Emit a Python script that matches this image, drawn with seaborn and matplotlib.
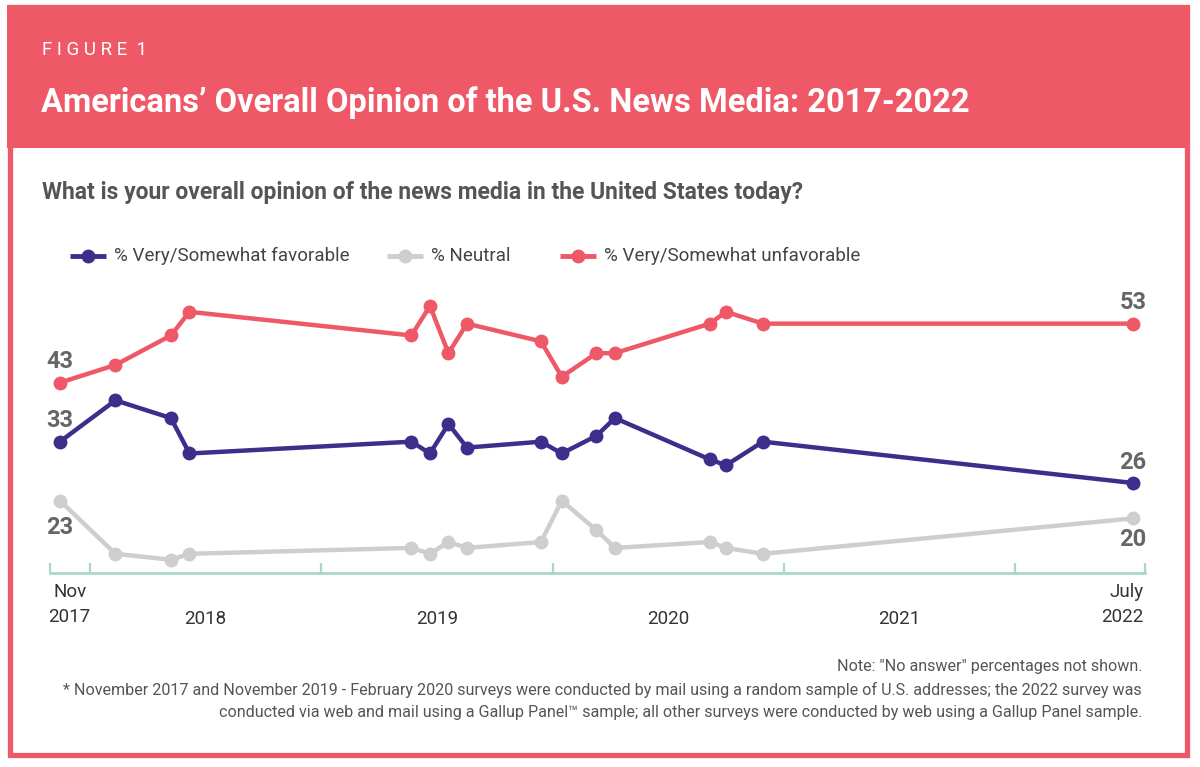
import numpy as np
import pandas as pd
import matplotlib
matplotlib.use("Agg")
import matplotlib.pyplot as plt
import matplotlib.patches as mpatches
from matplotlib.lines import Line2D
import seaborn as sns

# ---------------- data ----------------
survey_dates = [2017.87, 2018.11, 2018.35, 2018.43, 2019.39, 2019.47, 2019.55, 2019.63,
                2019.95, 2020.04, 2020.19, 2020.27, 2020.68, 2020.75, 2020.91, 2022.51]
favorable = [33, 40, 37, 31, 33, 31, 36, 32, 33, 31, 34, 37, 30, 29, 33, 26]
neutral = [23, 14, 13, 14, 15, 14, 16, 15, 16, 23, 18, 15, 16, 15, 14, 20]
unfavorable = [43, 46, 51, 55, 51, 56, 48, 53, 50, 44, 48, 48, 53, 55, 53, 53]
series_names = ["% Very/Somewhat favorable", "% Neutral", "% Very/Somewhat unfavorable"]
year_ticks = [2018, 2019, 2020, 2021, 2022]
year_labels = ["2018", "2019", "2020", "2021"]
first_label = "Nov\n2017"
last_label = "July\n2022"

# ---------------- style ----------------
RED = "#EF5867"
BLUE = "#3F2D8C"
GRAY = "#CFCDCD"
TEAL = "#A9D8CB"
TXT = "#555555"
colors = [BLUE, GRAY, RED]

sns.set_theme(style="white")
plt.rcParams["font.family"] = ["Roboto", "DejaVu Sans"]

df = pd.DataFrame({
    "date": survey_dates * 3,
    "pct": favorable + neutral + unfavorable,
    "series": [series_names[0]] * len(favorable) + [series_names[1]] * len(neutral)
              + [series_names[2]] * len(unfavorable),
})

W, H = 1200, 767
fig = plt.figure(figsize=(W / 100, H / 100), dpi=100)
fig.patch.set_facecolor("white")

def fx(px):
    return px / W

def fy(py):
    return 1 - py / H

# frame and header band
fig.patches.append(mpatches.Rectangle((fx(7), fy(148)), fx(1189) - fx(7), fy(5) - fy(148),
                                      transform=fig.transFigure, facecolor=RED, edgecolor="none", zorder=0))
fig.patches.append(mpatches.Rectangle((fx(9.5), fy(755)), fx(1187) - fx(9.5), fy(7) - fy(755),
                                      transform=fig.transFigure, facecolor="none", edgecolor=RED,
                                      linewidth=3.8, zorder=1))

fig.text(fx(42), fy(50), "F I G U R E  1", color="white", fontsize=13.5, va="center", ha="left",
         fontweight="normal")
fig.text(fx(41), fy(103), "Americans\u2019 Overall Opinion of the U.S. News Media: 2017-2022",
         color="white", fontsize=23.5, fontweight="bold", va="center", ha="left")
fig.text(fx(42), fy(193), "What is your overall opinion of the news media in the United States today?",
         color=TXT, fontsize=16.5, fontweight="bold", va="center", ha="left")

# legend (manual, figure coords)
leg_x = [70, 387, 560]
for name, col, x0 in zip(series_names, colors, leg_x):
    fig.add_artist(Line2D([fx(x0), fx(x0 + 36)], [fy(256), fy(256)], transform=fig.transFigure,
                          color=col, linewidth=3.5, solid_capstyle="butt"))
    fig.add_artist(Line2D([fx(x0 + 18)], [fy(256)], transform=fig.transFigure, marker="o",
                          markersize=9, color=col, linestyle="none"))
    fig.text(fx(x0 + 44), fy(256), name, color="#444444", fontsize=13.5, va="center", ha="left")

# main axes
ax_left_px, ax_right_px, ax_top_px, ax_bottom_px = 50, 1145, 290, 573
ax = fig.add_axes([fx(ax_left_px), fy(ax_bottom_px), fx(ax_right_px) - fx(ax_left_px),
                   fy(ax_top_px) - fy(ax_bottom_px)])
ax.set_facecolor("none")

sns.lineplot(data=df, x="date", y="pct", hue="series", hue_order=series_names,
             palette=colors, marker="o", markersize=10, markeredgewidth=0,
             linewidth=3.2, legend=False, ax=ax, zorder=3)

xl = (2017.827, 2022.562)
ax.set_xlim(*xl)
ax.set_ylim(10.75, 58.7)
ax.set_xlabel("")
ax.set_ylabel("")
ax.set_yticks([])
for s in ["top", "right", "left"]:
    ax.spines[s].set_visible(False)
ax.spines["bottom"].set_color(TEAL)
ax.spines["bottom"].set_linewidth(2)

ax.set_xticks([xl[0]] + year_ticks + [xl[1]])
ax.set_xticklabels([])
ax.tick_params(axis="x", which="major", direction="in", length=7, width=1.6, color=TEAL, bottom=True)
ax.set_xticks([y + 0.5 for y in year_ticks[:-1]], minor=True)
ax.set_xticklabels(["\n" + l for l in year_labels], minor=True)
ax.tick_params(axis="x", which="minor", length=0, pad=9, labelsize=13.5, labelcolor="#333333")
for t in ax.get_xticklabels(minor=True):
    t.set_linespacing(1.5)

ax.annotate(first_label, xy=(survey_dates[0], 0), xycoords=("data", "axes fraction"),
            xytext=(7, -7), textcoords="offset points", ha="center", va="top",
            fontsize=13.5, color="#333333", linespacing=1.5)
ax.annotate(last_label, xy=(xl[1], 0), xycoords=("data", "axes fraction"),
            xytext=(-1, -7), textcoords="offset points", ha="right", va="top",
            fontsize=13.5, color="#333333", linespacing=1.5, multialignment="right")

# end-point value labels
lab_kw = dict(textcoords="offset points", ha="center", va="center", fontsize=17,
              fontweight="bold", color="#666666")
for vals, off_first, off_last in [(unfavorable, 15, 15), (favorable, 15.5, 15),
                                  (neutral, -19, -15)]:
    ax.annotate(f"{vals[0]}", xy=(survey_dates[0], vals[0]), xytext=(0, off_first), **lab_kw)
    ax.annotate(f"{vals[-1]}", xy=(survey_dates[-1], vals[-1]), xytext=(0, off_last), **lab_kw)

# notes
notes = ['Note: "No answer" percentages not shown.',
         "* November 2017 and November 2019 - February 2020 surveys were conducted by mail using a random sample of U.S. addresses; the 2022 survey was",
         "conducted via web and mail using a Gallup Panel\u2122 sample; all other surveys were conducted by web using a Gallup Panel sample."]
for i, n in enumerate(notes):
    fig.text(fx(1142), fy(667 + 23 * i), n, color=TXT, fontsize=11.6, ha="right", va="center")

fig.savefig("out.png", dpi=100, facecolor="white")
